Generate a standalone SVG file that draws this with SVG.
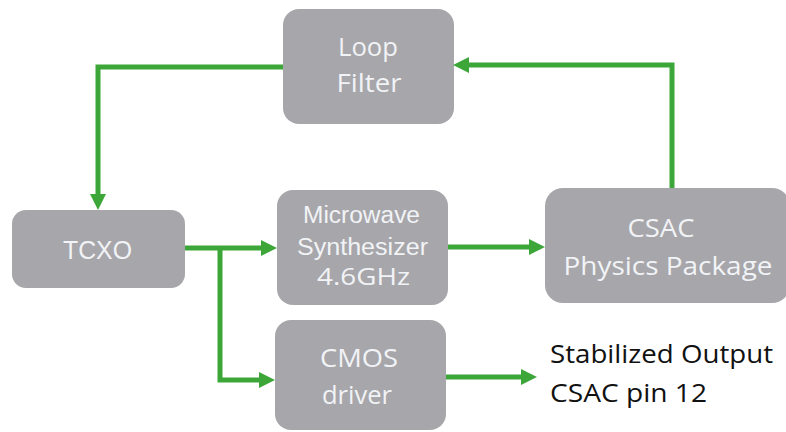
<svg xmlns="http://www.w3.org/2000/svg" width="786" height="432" viewBox="0 0 786 432">
<defs>
<marker id="ah" markerWidth="16" markerHeight="16" refX="6" refY="8" orient="auto" markerUnits="userSpaceOnUse" viewBox="0 0 16 16">
<path d="M0,0 L16,8 L0,16 Z" fill="#3da639"/>
</marker>
<style>
.box{fill:#a7a6aa;}
.t{fill:#f1f3f6;font-family:"Open Sans","Noto Sans",sans-serif;text-anchor:middle;}
.ta{fill:#f1f3f6;font-family:"Liberation Sans",Arial,sans-serif;text-anchor:middle;}
.c{fill:none;stroke:#3da639;stroke-width:5;}
.out{fill:#111;font-family:"Open Sans","Noto Sans",sans-serif;font-size:25px;}
</style>
</defs>
<rect width="786" height="432" fill="#fff"/>
<g id="loop-filter">
<rect class="box" x="283" y="9" width="171" height="115" rx="16"/>
<text class="t" x="368" y="56" font-size="26" textLength="60" lengthAdjust="spacingAndGlyphs">Loop</text>
<text class="t" x="369" y="92" font-size="26" textLength="65" lengthAdjust="spacingAndGlyphs">Filter</text>
</g>
<g id="tcxo">
<rect class="box" x="12" y="210" width="173" height="78" rx="14"/>
<text class="ta" x="97.5" y="259" font-size="26" textLength="69" lengthAdjust="spacingAndGlyphs">TCXO</text>
</g>
<g id="microwave">
<rect class="box" x="277" y="190" width="171" height="115" rx="16"/>
<text class="ta" x="361.5" y="223" font-size="23" textLength="117" lengthAdjust="spacingAndGlyphs">Microwave</text>
<text class="ta" x="362.5" y="255" font-size="23" textLength="131" lengthAdjust="spacingAndGlyphs">Synthesizer</text>
<text class="t" x="363.5" y="285" font-size="24" textLength="93" lengthAdjust="spacingAndGlyphs">4.6GHz</text>
</g>
<g id="cmos">
<rect class="box" x="275" y="320" width="171" height="110" rx="16"/>
<text class="t" x="359" y="367" font-size="26" textLength="78" lengthAdjust="spacingAndGlyphs">CMOS</text>
<text class="t" x="357" y="404" font-size="26" textLength="70" lengthAdjust="spacingAndGlyphs">driver</text>
</g>
<g id="csac">
<rect class="box" x="545" y="188" width="245" height="115" rx="18"/>
<text class="t" x="661" y="237" font-size="25" textLength="67" lengthAdjust="spacingAndGlyphs">CSAC</text>
<text class="t" x="668" y="275" font-size="25" textLength="209" lengthAdjust="spacingAndGlyphs">Physics Package</text>
</g>
<g id="output-label">
<text class="out" x="550" y="363" textLength="223" lengthAdjust="spacingAndGlyphs">Stabilized Output</text>
<text class="out" x="550" y="402" textLength="157" lengthAdjust="spacingAndGlyphs">CSAC pin 12</text>
</g>
<g id="connectors">
<path class="c" d="M283,67 H98 V200" marker-end="url(#ah)"/>
<path class="c" d="M672,188 V65 H463" marker-end="url(#ah)"/>
<path class="c" d="M185,248 H267" marker-end="url(#ah)"/>
<path class="c" d="M220,248 V380 H265" marker-end="url(#ah)"/>
<path class="c" d="M448,247 H535" marker-end="url(#ah)"/>
<path class="c" d="M446,377 H527" marker-end="url(#ah)"/>
</g>
</svg>
